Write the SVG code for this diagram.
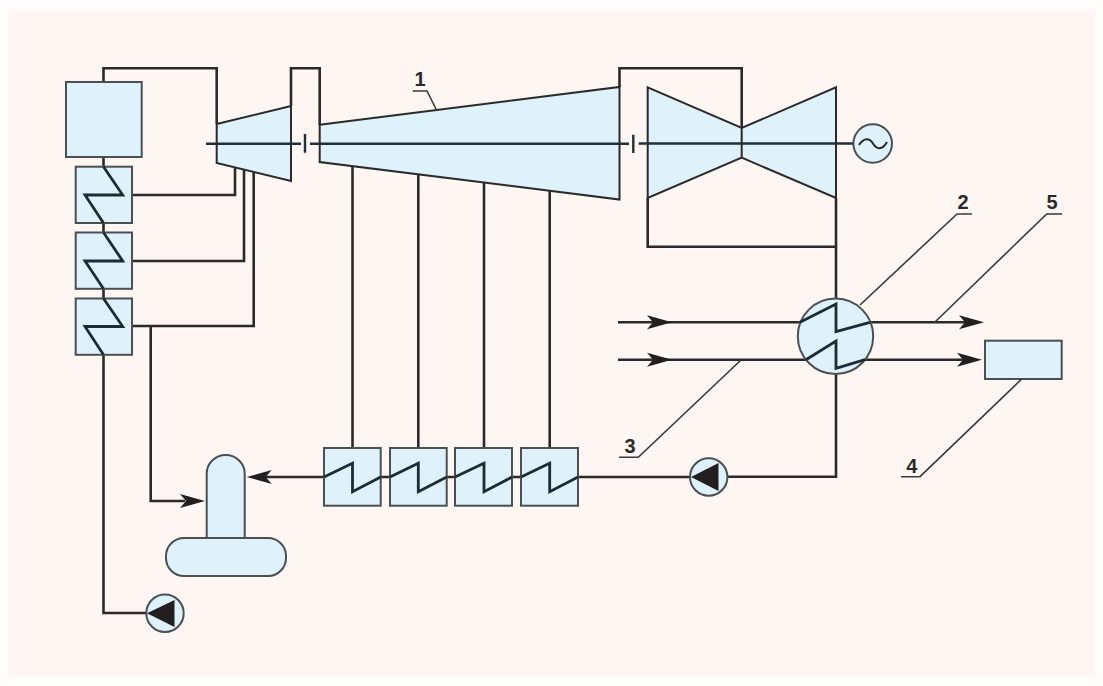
<svg xmlns="http://www.w3.org/2000/svg" width="1103" height="686" viewBox="0 0 1103 686">
<style>
.eq{fill:#dff1fb;stroke:#4a4f52;stroke-width:2}
.tb{fill:#dff1fb;stroke:none}
.ln{fill:none;stroke:#2b2a2a;stroke-width:2.6;stroke-linejoin:miter}
.th{fill:none;stroke:#2b2a2a;stroke-width:2}
.sh{fill:none;stroke:#1f3038;stroke-width:2.4}
.zz{fill:none;stroke:#1c2c33;stroke-width:2.8;stroke-linejoin:miter}
.ld{fill:none;stroke:#3a3a38;stroke-width:1.6}
.lb{font-family:"Liberation Sans",Arial,sans-serif;font-weight:bold;font-size:20px;fill:#2b2a2a;text-anchor:middle}
.ar{fill:#231f20;stroke:none}
</style>
<defs>
<path id="ah" d="M0 0L-25 -7L-19 0L-25 7Z"/>
</defs>
<rect width="1103" height="686" fill="#fffdfb"/>
<rect x="8" y="11" width="1087" height="665" fill="#fdf6f2"/>
<g id="connectors">
<path class="ln" d="M103.5 82V68.3H216.7V124"/>
<path class="ln" d="M291 106V68.3H319.7V125"/>
<path class="ln" d="M619.5 87V68.3H741.7V128"/>
<path class="ln" d="M647.7 198V246.7H836"/>
<path class="ln" d="M836 198V300"/>
<path class="ln" d="M836 373V476.7H727"/>
<path class="ln" d="M690 477H578"/>
<path class="ln" d="M324 477H262"/>
<path class="ln" d="M132 195H235V168"/>
<path class="ln" d="M132 261H244V170"/>
<path class="ln" d="M132 326H253.7V172"/>
<path class="ln" d="M150.7 326V501H185"/>
<path class="ln" d="M103.5 355V613H147"/>
<path class="ln" d="M352.5 166V448M418.3 174V448M484 183V448M549.7 191V448"/>
<path class="ln" d="M618 322.3H800M870 322.3H965"/>
<path class="ln" d="M618 359.7H806M865 359.7H965"/>
<path class="ln" d="M103.5 157V167M103.5 223V232M103.5 289V298"/>
<path class="ln" d="M380.7 477H390M446.7 477H455M512 477H521"/>
</g>
<g id="boiler"><rect class="eq" x="66" y="82" width="75.7" height="75"/></g>
<g id="reheater-1"><rect class="eq" x="75.7" y="166.7" width="56.3" height="56.3"/><path class="zz" d="M103.5 166.7L122.7 195H85L103.5 223"/></g>
<g id="reheater-2"><rect class="eq" x="75.7" y="232.5" width="56.3" height="56.3"/><path class="zz" d="M103.5 232.5L122.7 261H85L103.5 288.8"/></g>
<g id="reheater-3"><rect class="eq" x="75.7" y="298.5" width="56.3" height="56.3"/><path class="zz" d="M103.5 298.5L122.7 326.5H85L103.5 354.8"/></g>
<g id="hp-turbine"><path class="tb" d="M216.7 124L291 106V181L216.7 163Z"/><path class="th" d="M216.7 124L291 106V181L216.7 163Z"/></g>
<g id="ip-turbine"><path class="tb" d="M319.7 124.7L619.5 87V199.5L319.7 162Z"/><path class="th" d="M319.7 124.7L619.5 87V199.5L319.7 162Z"/></g>
<g id="lp-turbine"><path class="tb" d="M647.7 87.3L741.7 128L836 87.3V198L741.7 157.7L647.7 198Z"/><path class="th" d="M647.7 87.3L741.7 128L836 87.3V198L741.7 157.7L647.7 198ZM741.7 128V157.7"/></g>
<g id="shaft">
<path class="sh" d="M206 143.7H301M310 143.7H629M638.7 143.5H854"/>
<path class="sh" d="M305 134V152.7M633.3 134.7V153"/>
</g>
<g id="generator"><circle cx="872.7" cy="143.5" r="19.3" fill="#dff1fb" stroke="#4a4f52" stroke-width="2"/><path class="th" d="M859 145C864 137 870 138 873 143.5S882 151 887 142"/></g>
<g id="condenser">
<circle class="eq" cx="835.5" cy="336.3" r="37.7"/>
<path class="zz" d="M800 322.3L836 304V331.7L870 322.3"/>
<path class="zz" d="M806 359.7L836 341V368.3L865 359.7"/>
</g>
<g id="consumer"><rect class="eq" x="985" y="340.7" width="76.7" height="38.3"/></g>
<g id="deaerator">
<path class="eq" d="M206.7 538V473.5A19 18.5 0 0 1 244.7 473.5V538"/>
<rect class="eq" x="166" y="538" width="120" height="38" rx="18" ry="18"/>
</g>
<g id="preheater-1"><rect class="eq" x="324" y="448" width="56.7" height="57.7"/><path class="zz" d="M324 477L352.5 463.3V491.7L380.7 477"/></g>
<g id="preheater-2"><rect class="eq" x="390" y="448" width="56.7" height="57.7"/><path class="zz" d="M390 477L418.3 463.3V491.7L446.7 477"/></g>
<g id="preheater-3"><rect class="eq" x="455" y="448" width="57" height="57.7"/><path class="zz" d="M455 477L484 463.3V491.7L512 477"/></g>
<g id="preheater-4"><rect class="eq" x="521" y="448" width="57" height="57.7"/><path class="zz" d="M521 477L549.7 463.3V491.7L578 477"/></g>
<g id="pump-1"><circle class="eq" cx="708.7" cy="477" r="18.7"/><path class="ar" d="M691 477L718.5 463V491Z"/></g>
<g id="pump-2"><circle class="eq" cx="165" cy="613.3" r="18.7"/><path class="ar" d="M147 613.3L174.5 600V627Z"/></g>
<g id="arrowheads" class="ar">
<use href="#ah" x="205" y="501"/>
<use href="#ah" transform="translate(246.7 477) rotate(180)"/>
<use href="#ah" x="672" y="322.3"/>
<use href="#ah" x="672" y="359.7"/>
<use href="#ah" x="984" y="322.3"/>
<use href="#ah" x="982" y="359.7"/>
</g>
<g id="leaders">
<path class="ld" d="M436 109L427 91H412.7"/>
<path class="ld" d="M860 305L957 214H972"/>
<path class="ld" d="M935 322L1046.7 214H1062"/>
<path class="ld" d="M741 360L638.3 457.3H619"/>
<path class="ld" d="M1021.7 379L920 476.7H901"/>
</g>
<g id="labels">
<text class="lb" x="420" y="86">1</text>
<text class="lb" x="963" y="209">2</text>
<text class="lb" x="630" y="453">3</text>
<text class="lb" x="911.7" y="473">4</text>
<text class="lb" x="1052" y="209">5</text>
</g>
</svg>
